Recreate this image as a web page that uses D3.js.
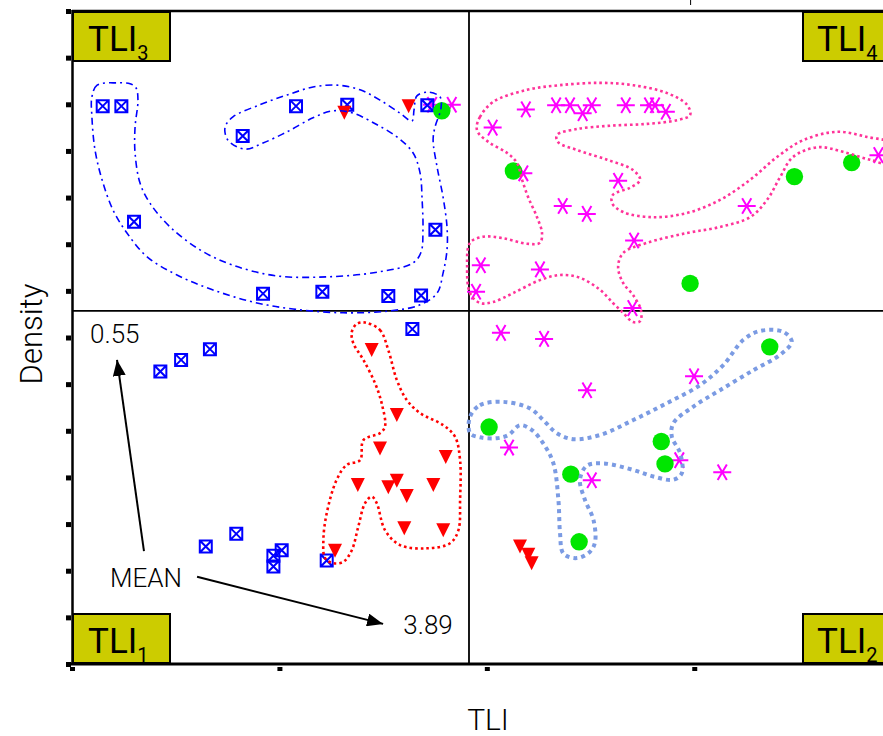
<!DOCTYPE html>
<html>
<head>
<meta charset="utf-8">
<script src="https://cdn.jsdelivr.net/npm/d3@7"></script>
<style>
body { margin: 0; background: #fff; }
text { font-family: Roboto, "Liberation Sans", Arial, sans-serif; font-weight: 300; fill: #000; }
.quad text { font-weight: 400; }
</style>
</head>
<body>
<div id="scatter"></div>
<script>
// Tick values (unlabelled ticks on both axes)
var xTicks = [2, 3, 4, 5];
var yTicks = [0, 0.1, 0.2, 0.3, 0.4, 0.5, 0.6, 0.7, 0.8, 0.9, 1.0, 1.1, 1.2, 1.3, 1.4];
var topTicks = [4.98];

// Means that split the plot into the four quadrants
var xMean = 3.914;
var yMean = 0.757;

// Series: [TLI, density]
var squares = [
    [2.148, 1.196], [2.238, 1.196], [2.823, 1.132], [3.080, 1.196], [3.327, 1.199], [3.713, 1.198],
    [2.299, 0.948], [3.752, 0.931], [2.921, 0.794], [3.207, 0.798], [3.525, 0.789], [3.683, 0.790],
    [3.641, 0.718], [2.665, 0.675], [2.526, 0.652], [2.426, 0.627], [2.645, 0.252], [2.792, 0.279],
    [3.011, 0.244], [2.971, 0.232], [2.971, 0.209], [3.228, 0.222]
];
var triangles = [
    [3.313, 1.182], [3.623, 1.196], [3.445, 0.673], [3.566, 0.534], [3.485, 0.462], [3.802, 0.444],
    [3.378, 0.384], [3.525, 0.379], [3.566, 0.393], [3.614, 0.360], [3.742, 0.384], [3.602, 0.291],
    [3.790, 0.287], [3.268, 0.243], [4.160, 0.252], [4.200, 0.234], [4.216, 0.216]
];
var stars = [
    [3.736, 1.199], [3.831, 1.199], [4.188, 1.189], [4.334, 1.198], [4.401, 1.198], [4.506, 1.198],
    [4.462, 1.181], [4.670, 1.198], [4.782, 1.198], [4.811, 1.198], [4.863, 1.184], [4.028, 1.150],
    [4.176, 1.052], [4.633, 1.036], [4.366, 0.982], [4.482, 0.965], [5.253, 0.982], [5.888, 1.091],
    [4.710, 0.908], [3.971, 0.855], [4.256, 0.846], [3.948, 0.798], [4.702, 0.763], [4.068, 0.710],
    [4.276, 0.697], [4.483, 0.587], [4.999, 0.617], [4.107, 0.464], [4.506, 0.394], [4.928, 0.437],
    [5.135, 0.411]
];
var circles = [
    [3.783, 1.186], [4.128, 1.057], [5.483, 1.045], [5.759, 1.075], [4.980, 0.816], [4.011, 0.508],
    [5.364, 0.680], [4.841, 0.477], [4.859, 0.429], [4.405, 0.407], [4.445, 0.262]
];

// Hand drawn group outlines
var blueOutline = [
    [2.217, 1.246], [2.121, 1.241], [2.096, 1.216], [2.096, 1.173], [2.111, 1.102], [2.145, 1.038],
    [2.198, 0.973], [2.265, 0.924], [2.362, 0.873], [2.506, 0.834], [2.680, 0.802], [2.873, 0.776],
    [3.066, 0.761], [3.307, 0.753], [3.533, 0.757], [3.678, 0.770], [3.760, 0.795], [3.789, 0.838],
    [3.808, 0.888], [3.808, 0.937], [3.789, 1.001], [3.760, 1.066], [3.741, 1.123], [3.750, 1.151],
    [3.779, 1.192], [3.774, 1.216], [3.716, 1.226], [3.663, 1.218], [3.649, 1.188], [3.639, 1.164],
    [3.581, 1.181], [3.485, 1.209], [3.389, 1.231], [3.278, 1.241], [3.162, 1.237], [3.037, 1.220],
    [2.906, 1.199], [2.776, 1.173], [2.738, 1.151], [2.752, 1.123], [2.834, 1.104], [2.921, 1.117],
    [3.037, 1.141], [3.162, 1.171], [3.258, 1.186], [3.355, 1.181], [3.471, 1.156], [3.567, 1.130],
    [3.644, 1.096], [3.678, 1.053], [3.688, 0.995], [3.692, 0.931], [3.683, 0.883], [3.644, 0.860],
    [3.471, 0.840], [3.230, 0.830], [2.988, 0.832], [2.776, 0.855], [2.617, 0.888], [2.473, 0.937],
    [2.376, 0.988], [2.328, 1.031], [2.304, 1.096], [2.304, 1.151], [2.318, 1.209], [2.309, 1.235],
    [2.280, 1.244]
];
var pinkOutline = [
    [3.951, 1.152], [3.967, 1.173], [4.030, 1.205], [4.194, 1.231], [4.353, 1.241], [4.546, 1.246],
    [4.705, 1.241], [4.869, 1.224], [4.965, 1.199], [4.980, 1.177], [4.917, 1.166], [4.772, 1.158],
    [4.594, 1.154], [4.435, 1.147], [4.338, 1.134], [4.343, 1.119], [4.435, 1.102], [4.580, 1.081],
    [4.705, 1.059], [4.739, 1.038], [4.690, 1.021], [4.608, 1.006], [4.604, 0.988], [4.657, 0.969],
    [4.801, 0.958], [4.965, 0.967], [5.124, 0.995], [5.269, 1.038], [5.399, 1.087], [5.525, 1.123],
    [5.689, 1.141], [5.833, 1.130], [5.968, 1.113], [5.968, 1.070], [5.848, 1.081], [5.717, 1.098],
    [5.597, 1.108], [5.476, 1.087], [5.414, 1.044], [5.351, 0.995], [5.269, 0.958], [5.124, 0.937],
    [4.965, 0.924], [4.772, 0.903], [4.657, 0.881], [4.633, 0.851], [4.657, 0.817], [4.705, 0.791],
    [4.743, 0.759], [4.739, 0.735], [4.705, 0.733], [4.657, 0.753], [4.608, 0.774], [4.546, 0.802],
    [4.449, 0.828], [4.353, 0.834], [4.256, 0.823], [4.126, 0.795], [4.030, 0.776], [3.967, 0.774],
    [3.919, 0.795], [3.905, 0.851], [3.919, 0.903], [3.982, 0.916], [4.078, 0.913], [4.194, 0.901],
    [4.256, 0.903], [4.266, 0.924], [4.242, 0.958], [4.199, 1.001], [4.170, 1.038], [4.146, 1.074],
    [4.097, 1.096], [4.015, 1.117], [3.958, 1.139]
];
var redOutline = [
    [3.413, 0.732], [3.485, 0.716], [3.525, 0.673], [3.566, 0.609], [3.614, 0.566], [3.678, 0.538],
    [3.790, 0.512], [3.847, 0.487], [3.871, 0.437], [3.871, 0.352], [3.863, 0.287], [3.823, 0.259],
    [3.710, 0.248], [3.581, 0.255], [3.509, 0.287], [3.469, 0.345], [3.445, 0.359], [3.413, 0.345],
    [3.380, 0.294], [3.349, 0.244], [3.308, 0.219], [3.260, 0.216], [3.220, 0.227], [3.212, 0.266],
    [3.228, 0.323], [3.276, 0.395], [3.325, 0.427], [3.389, 0.437], [3.405, 0.480], [3.485, 0.495],
    [3.509, 0.509], [3.493, 0.559], [3.461, 0.602], [3.405, 0.652], [3.356, 0.688], [3.349, 0.712],
    [3.373, 0.729]
];
var lightBlueOutline = [
    [3.919, 0.530], [3.967, 0.555], [4.080, 0.562], [4.208, 0.548], [4.272, 0.523], [4.337, 0.495],
    [4.417, 0.482], [4.546, 0.491], [4.706, 0.523], [4.867, 0.559], [5.028, 0.598], [5.140, 0.641],
    [5.237, 0.695], [5.317, 0.714], [5.430, 0.712], [5.470, 0.691], [5.414, 0.663], [5.285, 0.630],
    [5.124, 0.587], [4.996, 0.552], [4.899, 0.516], [4.892, 0.487], [4.932, 0.452], [4.940, 0.409],
    [4.899, 0.395], [4.803, 0.402], [4.706, 0.416], [4.562, 0.430], [4.482, 0.425], [4.449, 0.395],
    [4.473, 0.352], [4.514, 0.309], [4.522, 0.262], [4.498, 0.241], [4.433, 0.227], [4.369, 0.237],
    [4.353, 0.280], [4.345, 0.352], [4.321, 0.430], [4.272, 0.473], [4.216, 0.502], [4.160, 0.512],
    [4.104, 0.491], [4.048, 0.484], [3.967, 0.486], [3.919, 0.495]
];

// Mean annotation
var meanArrows = [
    { from: [2.347, 0.242], to: [2.217, 0.652] },
    { from: [2.603, 0.187], to: [3.500, 0.086] }
];
var meanTexts = [
    { label: "0.55", x: 2.087, y: 0.688 },
    { label: "MEAN", x: 2.183, y: 0.165 },
    { label: "3.89", x: 3.597, y: 0.064 }
];
var quadrants = ["3", "4", "1", "2"];

var svgWidth = 883;
var svgHeight = 736;
var margin = { top: 11, right: 0, bottom: 72, left: 72 };
var width = svgWidth - margin.left - margin.right;
var height = svgHeight - margin.top - margin.bottom;

var svg = d3.select("#scatter")
    .append("svg")
    .attr("width", svgWidth)
    .attr("height", svgHeight);

var chartGroup = svg.append("g")
    .attr("transform", `translate(${margin.left}, ${margin.top})`);

var xScale = d3.scaleLinear().domain([2, 5.91]).range([0, width]);
var yScale = d3.scaleLinear().domain([0, 1.4]).range([height, 0]);

// arrow head
svg.append("defs").append("marker")
    .attr("id", "head")
    .attr("viewBox", "0 0 16 13")
    .attr("refX", 16)
    .attr("refY", 6.5)
    .attr("markerWidth", 16)
    .attr("markerHeight", 13)
    .attr("markerUnits", "userSpaceOnUse")
    .attr("orient", "auto")
    .append("path")
    .attr("d", "M0,0L16,6.5L0,13Z")
    .attr("fill", "#000");

// Axes (ticks only, drawn as small squares)
var leftAxis = d3.axisLeft(yScale).tickValues(yTicks).tickSize(5).tickFormat("");
var yAxis = chartGroup.append("g").call(leftAxis);
yAxis.select(".domain").remove();
yAxis.selectAll(".tick line").attr("x1", -1).attr("x2", -6).attr("stroke-width", 5);

var bottomAxis = d3.axisBottom(xScale).tickValues(xTicks).tickSize(7).tickFormat("");
var xAxis = chartGroup.append("g")
    .attr("transform", `translate(0, ${height})`)
    .call(bottomAxis);
xAxis.select(".domain").remove();
xAxis.selectAll(".tick line").attr("y1", 3).attr("y2", 7).attr("stroke-width", 5);

var topAxis = d3.axisTop(xScale).tickValues(topTicks).tickSize(11).tickFormat("");
var tAxis = chartGroup.append("g").call(topAxis);
tAxis.select(".domain").remove();
tAxis.selectAll(".tick line").attr("y1", -6).attr("stroke-width", 1);

// frame
chartGroup.append("line").attr("x1", 0).attr("x2", width).attr("y1", 0).attr("y2", 0)
    .attr("stroke", "#000").attr("stroke-width", 2.5);
chartGroup.append("line").attr("x1", -1).attr("x2", width).attr("y1", height).attr("y2", height)
    .attr("stroke", "#000").attr("stroke-width", 3);
chartGroup.append("line").attr("x1", 0.5).attr("x2", 0.5).attr("y1", -1).attr("y2", height + 1)
    .attr("stroke", "#000").attr("stroke-width", 2.5);

// mean lines
chartGroup.append("line")
    .attr("x1", xScale(xMean)).attr("x2", xScale(xMean))
    .attr("y1", 0).attr("y2", height)
    .attr("stroke", "#000").attr("stroke-width", 1.8);
chartGroup.append("line")
    .attr("x1", 0).attr("x2", width)
    .attr("y1", yScale(yMean)).attr("y2", yScale(yMean))
    .attr("stroke", "#000").attr("stroke-width", 1.8);

// markers
chartGroup.selectAll(".star")
    .data(stars)
    .enter()
    .append("path")
    .attr("class", "star")
    .attr("transform", d => `translate(${xScale(d[0])}, ${yScale(d[1])})`)
    .attr("d", "M-9,0H9M-4.6,-7.8L4.6,7.8M4.6,-7.8L-4.6,7.8")
    .attr("stroke", "#ff00ff")
    .attr("stroke-width", 2)
    .attr("fill", "none");

chartGroup.selectAll(".sq")
    .data(squares)
    .enter()
    .append("path")
    .attr("class", "sq")
    .attr("transform", d => `translate(${xScale(d[0])}, ${yScale(d[1])})`)
    .attr("d", "M-6,-6H6V6H-6ZM-6,-6L6,6M6,-6L-6,6")
    .attr("stroke", "#0000ff")
    .attr("stroke-width", 2)
    .attr("fill", "none");

chartGroup.selectAll(".tri")
    .data(triangles)
    .enter()
    .append("path")
    .attr("class", "tri")
    .attr("transform", d => `translate(${xScale(d[0])}, ${yScale(d[1])})`)
    .attr("d", "M-7,-7L7,-7L0,7Z")
    .attr("fill", "#ff0000");

chartGroup.selectAll(".dot")
    .data(circles)
    .enter()
    .append("circle")
    .attr("class", "dot")
    .attr("cx", d => xScale(d[0]))
    .attr("cy", d => yScale(d[1]))
    .attr("r", 8.7)
    .attr("fill", "#00e600");

// outlines
var outline = d3.line()
    .x(d => xScale(d[0]))
    .y(d => yScale(d[1]))
    .curve(d3.curveCatmullRomClosed.alpha(0.5));

chartGroup.append("path").datum(blueOutline)
    .attr("d", outline).attr("fill", "none")
    .attr("stroke", "#0000ff").attr("stroke-width", 1.6)
    .attr("stroke-dasharray", "7,4,2,4");
chartGroup.append("path").datum(pinkOutline)
    .attr("d", outline).attr("fill", "none")
    .attr("stroke", "#ff3399").attr("stroke-width", 2.6)
    .attr("stroke-dasharray", "2.6,3");
chartGroup.append("path").datum(redOutline)
    .attr("d", outline).attr("fill", "none")
    .attr("stroke", "#ff0000").attr("stroke-width", 2.6)
    .attr("stroke-dasharray", "2.6,3");
chartGroup.append("path").datum(lightBlueOutline)
    .attr("d", outline).attr("fill", "none")
    .attr("stroke", "#7b9be3").attr("stroke-width", 4)
    .attr("stroke-dasharray", "4,4");

// mean annotation
chartGroup.selectAll(".arrow")
    .data(meanArrows)
    .enter()
    .append("line")
    .attr("class", "arrow")
    .attr("x1", d => xScale(d.from[0]))
    .attr("y1", d => yScale(d.from[1]))
    .attr("x2", d => xScale(d.to[0]))
    .attr("y2", d => yScale(d.to[1]))
    .attr("stroke", "#000")
    .attr("stroke-width", 2)
    .attr("marker-end", "url(#head)");

chartGroup.selectAll(".meanText")
    .data(meanTexts)
    .enter()
    .append("text")
    .attr("class", "meanText")
    .attr("x", d => xScale(d.x))
    .attr("y", d => yScale(d.y))
    .attr("font-size", 26)
    .text(d => d.label);

// quadrant labels
var boxW = 97, boxH = 49;
var boxPos = [
    [0, 0], [width - 81, 0],
    [0, height - 51], [width - 81, height - 51]
];
var boxes = chartGroup.selectAll(".quad")
    .data(quadrants)
    .enter()
    .append("g")
    .attr("class", "quad")
    .attr("transform", (d, i) => `translate(${boxPos[i][0]}, ${boxPos[i][1]})`);
boxes.append("rect")
    .attr("x", 1).attr("y", 1)
    .attr("width", boxW).attr("height", boxH)
    .attr("fill", "#cccc00")
    .attr("stroke", "#000")
    .attr("stroke-width", 2);
var boxText = boxes.append("text")
    .attr("x", (d, i) => i % 2 === 0 ? 16 : 15)
    .attr("y", 40)
    .attr("font-size", 35);
boxText.append("tspan").text("TLI");
boxText.append("tspan").attr("dy", 9).attr("font-size", 20).text(d => d);

// axis titles
svg.append("text")
    .attr("x", 488)
    .attr("y", 730)
    .attr("text-anchor", "middle")
    .attr("font-size", 30)
    .text("TLI");
svg.append("text")
    .attr("transform", "translate(42, 334) rotate(-90)")
    .attr("text-anchor", "middle")
    .attr("font-size", 31)
    .text("Density");
</script>
</body>
</html>
